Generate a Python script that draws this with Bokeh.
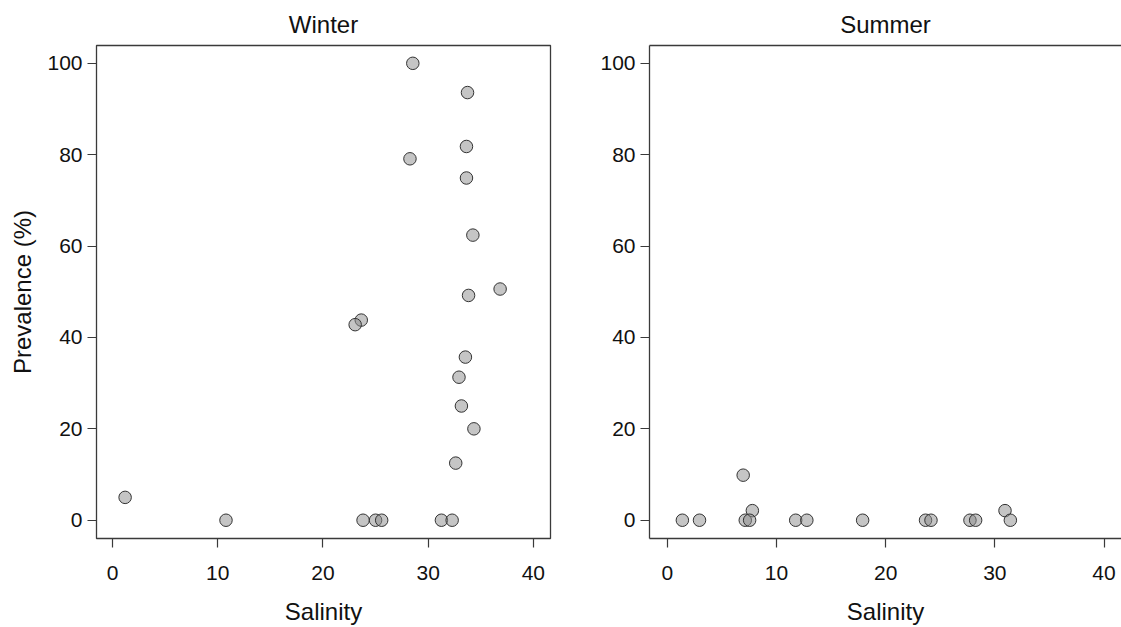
from bokeh.plotting import figure
from bokeh.models import Range1d, FixedTicker, LinearAxis
from bokeh.layouts import row
from bokeh.embed import file_html
from bokeh.resources import INLINE

# ---- data ----
winter_salinity = [28.54, 33.74, 33.64, 28.27, 33.64, 34.25, 36.84, 33.84, 23.64, 23.06,
                   33.54, 32.93, 33.16, 34.35, 32.62, 1.19, 10.78, 23.81, 25.00, 25.58,
                   31.26, 32.28]
winter_prevalence = [100.0, 93.6, 81.8, 79.1, 74.9, 62.4, 50.6, 49.2, 43.8, 42.8,
                     35.7, 31.3, 25.0, 20.0, 12.5, 5.0, 0, 0, 0, 0,
                     0, 0]

summer_salinity = [1.38, 2.95, 6.95, 7.79, 7.14, 7.54, 11.76, 12.78, 17.89, 23.65,
                   24.15, 27.72, 28.24, 30.93, 31.42]
summer_prevalence = [0, 0, 9.86, 2.1, 0, 0, 0, 0, 0, 0,
                     0, 0, 0, 2.1, 0]

x_ticks = [0, 10, 20, 30, 40]
y_ticks = [0, 20, 40, 60, 80, 100]
panel_titles = ["Winter", "Summer"]
x_label = "Salinity"
y_label = "Prevalence (%)"

FONT = "Liberation Sans"
LINE = "#3a3a3a"
TXT = "#111111"
Y0, Y1 = -4.0, 103.9


def make_panel(title, xs, ys, fw, b_left, b_right, x_start, x_end, ylab, full_box):
    p = figure(frame_width=fw, frame_height=493, output_backend="svg", toolbar_location=None,
               x_range=Range1d(x_start, x_end), y_range=Range1d(Y0, Y1),
               min_border_left=b_left, min_border_right=b_right,
               min_border_top=45, min_border_bottom=80)
    p.background_fill_color = "white"
    p.border_fill_color = "white"
    p.grid.visible = False

    bottom = p.below[0]
    left = p.left[0]

    for ax in (bottom, left):
        ax.major_tick_in = 0
        ax.major_tick_out = 9
        ax.major_tick_line_color = LINE
        ax.major_tick_line_width = 1.2
        ax.minor_tick_line_color = None
        ax.major_label_text_font = FONT
        ax.major_label_text_font_size = "21px"
        ax.major_label_text_color = TXT
        ax.axis_label_text_font = FONT
        ax.axis_label_text_font_size = "24px"
        ax.axis_label_text_font_style = "normal"
        ax.axis_label_text_color = TXT
    bottom.ticker = FixedTicker(ticks=x_ticks)
    left.ticker = FixedTicker(ticks=y_ticks)
    bottom.axis_label = x_label
    bottom.major_label_standoff = 18
    bottom.axis_label_standoff = 15
    left.major_label_standoff = 5
    if ylab:
        left.axis_label = ylab
        left.axis_label_standoff = 8

    if full_box:
        p.outline_line_color = LINE
        p.outline_line_width = 1.3
        p.outline_line_alpha = 1.0
        bottom.axis_line_color = None
        left.axis_line_color = None
    else:
        p.outline_line_color = None
        bottom.axis_line_color = LINE
        left.axis_line_color = LINE
        bottom.axis_line_width = 1.3
        left.axis_line_width = 1.3

    # panel title as the label of a tick-less top axis (its line is the top border)
    top = LinearAxis(ticker=FixedTicker(ticks=[]), axis_label=title,
                     major_tick_in=0, major_tick_out=0, minor_tick_in=0, minor_tick_out=0,
                     major_label_text_font_size="0px",
                     axis_label_standoff=8, axis_label_text_font=FONT,
                     axis_label_text_font_size="24px", axis_label_text_font_style="normal",
                     axis_label_text_color=TXT,
                     axis_line_color=(None if full_box else LINE), axis_line_width=1.3)
    p.add_layout(top, "above")

    p.scatter(xs, ys, size=12.5, marker="circle", fill_color="#8c8c8c", fill_alpha=0.5,
              line_color="#333333", line_width=1.0)
    return p


p1 = make_panel(panel_titles[0], winter_salinity, winter_prevalence, 454, 96, 20,
                -1.53, 41.63, y_label, True)
p2 = make_panel(panel_titles[1], summer_salinity, summer_prevalence, 472, 79, 0,
                -1.63, 41.6, None, False)

layout = row(p1, p2)
open("out.html", "w").write(file_html(layout, INLINE))
